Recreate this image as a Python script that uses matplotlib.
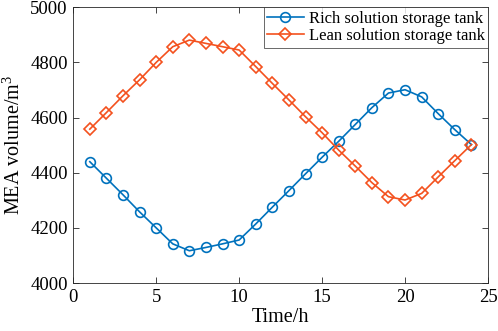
import matplotlib
matplotlib.use("Agg")
import matplotlib.pyplot as plt

plt.rcParams['font.family'] = ['Liberation Serif', 'DejaVu Serif']
plt.rcParams['mathtext.fontset'] = 'custom'
plt.rcParams['mathtext.rm'] = 'Liberation Serif'

hours = list(range(1, 25))
rich = [4440, 4380, 4320, 4258, 4200, 4142, 4117, 4129, 4142, 4156, 4214, 4275,
        4335, 4396, 4456, 4514, 4575, 4636, 4689, 4701, 4675, 4614, 4556, 4502]
lean = [4558, 4618, 4679, 4737, 4800, 4857, 4881, 4869, 4857, 4845, 4785, 4724,
        4664, 4603, 4545, 4482, 4424, 4364, 4313, 4301, 4325, 4385, 4444, 4502]

blue = '#0072BD'
orange = '#F4511E'

fig = plt.figure(figsize=(4.98, 3.31), dpi=100)
ax = fig.add_axes([0.147, 0.145, 0.833, 0.833])

ax.plot(hours, rich, color=blue, marker='o', markersize=7, markerfacecolor='none',
        markeredgewidth=1.2, linewidth=1.2, label='Rich solution storage tank')
ax.plot(hours, lean, color=orange, marker='D', markersize=6.3, markerfacecolor='none',
        markeredgewidth=1.2, linewidth=1.2, label='Lean solution storage tank')

ax.set_xlim(0, 25)
ax.set_ylim(4000, 5000)
ax.set_xticks([0, 5, 10, 15, 20, 25])
ax.set_yticks([4000, 4200, 4400, 4600, 4800, 5000])
ax.tick_params(direction='in', top=True, right=True, labelsize=13.5, length=4, width=0.6,
               colors='#262626', labelcolor='black', pad=4)
for sp in ax.spines.values():
    sp.set_linewidth(0.6)
    sp.set_color('#262626')

ax.set_xlabel('Time/h', fontsize=14.5, labelpad=2)
ax.set_ylabel('MEA volume/m$^3$', fontsize=14.5, labelpad=4)

leg = ax.legend(loc='upper right', fontsize=12, frameon=True, fancybox=False,
                borderaxespad=0, handlelength=2.2, handletextpad=0.3,
                borderpad=0.2, labelspacing=0.1)
leg.get_frame().set_edgecolor('#262626')
leg.get_frame().set_linewidth(0.6)

fig.savefig('out.png', dpi=100)
